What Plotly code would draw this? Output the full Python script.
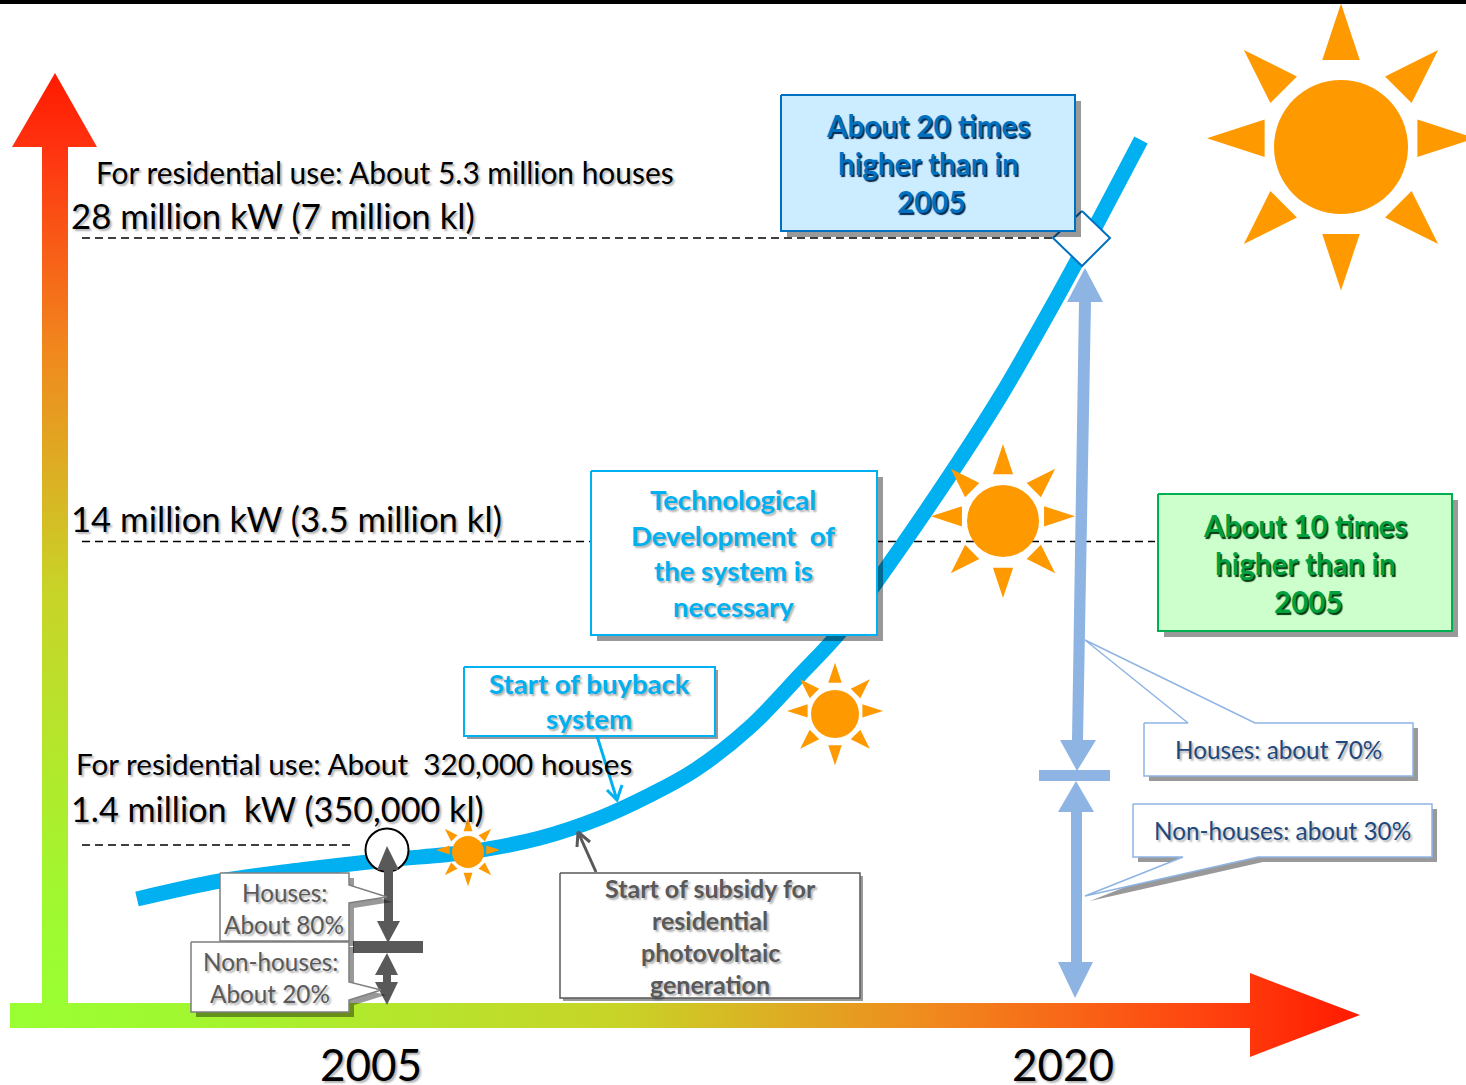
import math
import plotly.graph_objects as go

# ---------- data ----------
curve_x = [137, 220, 300, 387, 468, 540, 600, 650, 695, 750, 800, 840, 880, 950, 1000, 1050, 1085, 1141]
curve_y = [899, 881, 870, 860, 852, 838, 818, 795, 770, 727, 675, 632, 577, 475, 397, 310, 246, 140]
level_y = [238, 541.5, 845]
level_x_end = [1055, 1155, 352]
year_labels = ["2005", "2020"]
year_x = [371, 1063]
level_labels = ["28 million kW (7 million kl)", "14 million kW (3.5 million kl)", "1.4 million  kW (350,000 kl)"]
level_label_y = [215, 518, 808]
level_label_size = [34.8, 34.7, 34.2]
house_labels = ["For residential use: About 5.3 million houses", "For residential use: About  320,000 houses"]
house_label_x = [94, 74]
house_label_y = [172, 763]
house_label_size = [29.9, 29.7]
sun_x = [1341, 1003, 835, 468]
sun_y = [147, 521, 714, 852]
sun_r = [67, 36, 24, 16]

FONT = "Lato"
SHADOW = "rgba(0,0,0,0.4)"
fig = go.Figure()


def poly(xs, ys, fill, line=None, width=0):
    fig.add_trace(go.Scatter(
        x=list(xs) + [xs[0]], y=list(ys) + [ys[0]], mode="lines", fill="toself", fillcolor=fill,
        line=dict(color=line or "rgba(0,0,0,0)", width=width), hoverinfo="skip", showlegend=False))


def box(x0, y0, x1, y1, fill, line, width=2, off=6):
    if off:
        poly([x0 + off, x1 + off, x1 + off, x0 + off], [y0 + off, y0 + off, y1 + off, y1 + off], SHADOW)
    poly([x0, x1, x1, x0], [y0, y0, y1, y1], fill, line, width)


def seg(xs, ys, color, width, dash=None, shape="linear"):
    fig.add_trace(go.Scatter(x=xs, y=ys, mode="lines", line=dict(color=color, width=width, dash=dash, shape=shape),
                             hoverinfo="skip", showlegend=False))


def dot(x, y, diameter, fill, line="rgba(0,0,0,0)", width=0):
    fig.add_trace(go.Scatter(x=[x], y=[y], mode="markers",
                             marker=dict(size=diameter, color=fill, line=dict(color=line, width=width)),
                             hoverinfo="skip", showlegend=False))


def text(s, x, y, size, color, bold=False, anchor="center", shadow="2px 2px 2px rgba(0,0,0,0.3)"):
    fig.add_annotation(x=x, y=y, text=s, showarrow=False, xanchor=anchor, yanchor="middle",
                       font=dict(family=FONT, size=size, color=color, weight="bold" if bold else "normal",
                                 shadow=shadow))


RAY_INNER = [1.14, 1.21, 1.30, 1.21, 1.14, 1.21, 1.30, 1.21]
RAY_OUTER = [2.00, 2.05, 2.14, 2.05, 2.00, 2.05, 2.14, 2.05]
RAY_SHIFT = [-0.13, 0, 0, 0, -0.13, 0, 0, 0]


def sun(cx, cy, r):
    for k in range(8):
        a = k * math.pi / 4
        ca, sa = math.cos(a), math.sin(a)
        inner, outer, hw = RAY_INNER[k] * r, RAY_OUTER[k] * r, 0.28 * r
        cy2 = cy + RAY_SHIFT[k] * r
        poly([cx + inner * ca - hw * sa, cx + outer * ca, cx + inner * ca + hw * sa],
             [cy2 + inner * sa + hw * ca, cy2 + outer * sa, cy2 + inner * sa - hw * ca], "#FF9900")
    dot(cx, cy, 2 * r, "#FF9900")


# top rule
poly([0, 1466, 1466, 0], [-1, -1, 4, 4], "black")

# gradient axis arrows
GRAD = [[0, "#99FF33"], [0.12, "#A0F830"], [0.45, "#C8D428"], [0.68, "#F08A1E"], [0.88, "#FF4510"], [1, "#FF1A00"]]
fig.add_trace(go.Scatter(
    x=[42, 42, 12, 55, 97, 68, 68], y=[1015, 147, 147, 73, 147, 147, 1015], mode="lines", fill="toself",
    line=dict(width=0), fillgradient=dict(type="vertical", colorscale=[[0, "#FF1A00"], [0.08, "#FF3310"], [0.3, "#F08A1E"], [0.55, "#C8D428"], [0.88, "#A0F830"], [1, "#99FF33"]], start=73, stop=1015),
    hoverinfo="skip", showlegend=False))
fig.add_trace(go.Scatter(
    x=[10, 1250, 1250, 1360, 1250, 1250, 10], y=[1003, 1003, 973, 1015, 1057, 1028, 1028], mode="lines", fill="toself",
    line=dict(width=0), fillgradient=dict(type="horizontal", colorscale=GRAD, start=10, stop=1360),
    hoverinfo="skip", showlegend=False))

# dashed level lines
for ly, lx in zip(level_y, level_x_end):
    seg([82, lx], [ly, ly], "black", 1.5, "8px,5px")

# growth curve
seg(curve_x, curve_y, "#00B0F0", 15, shape="spline")

# suns
for sx, sy, sr in zip(sun_x, sun_y, sun_r):
    sun(sx, sy, sr)

# blue 2020 double arrows
B = "#8EB4E3"
poly([1085, 1103, 1091, 1083, 1096, 1077, 1060, 1072, 1079, 1067],
     [268, 302, 302, 740, 740, 771, 740, 740, 302, 302], B)
poly([1039, 1110, 1110, 1039], [770, 770, 781, 781], B)
poly([1076, 1094, 1082, 1082, 1093, 1075, 1058, 1071, 1071, 1058],
     [781, 812, 812, 962, 962, 998, 962, 962, 812, 812], B)

# diamond
poly([1082, 1110, 1082, 1053], [211, 238, 266, 238], "white", "#0070C0", 2)

# circle marker at 2005
dot(387, 850, 43, "white", "black", 2)

# gray 2005 arrows
G = "#595959"
poly([387, 399, 393, 393, 400, 388, 377, 384, 384, 377], [846, 870, 870, 921, 921, 943, 921, 921, 870, 870], G)
poly([353, 423, 423, 353], [941, 941, 953, 953], G)
poly([387, 398, 391, 391, 398, 387, 375, 383, 383, 375], [953, 975, 975, 982, 982, 1005, 982, 982, 975, 975], G)

# callouts at 2005
cx1, cy1 = [220, 349, 349, 387, 349, 349, 220], [873, 873, 885, 897, 903, 941, 941]
poly([x + 5 for x in cx1], [y + 5 for y in cy1], SHADOW)
poly(cx1, cy1, "white", "#7F7F7F", 1.5)
cx2, cy2 = [191, 349, 349, 381, 349, 349, 191], [942, 942, 982, 990, 1000, 1012, 1012]
poly([x + 5 for x in cx2], [y + 5 for y in cy2], SHADOW)
poly(cx2, cy2, "white", "#7F7F7F", 1.5)

# text boxes
box(781, 95, 1075, 231, "#CCECFF", "#0070C0")
box(591, 471, 877, 635, "white", "#00B0F0")
box(464, 667, 715, 736, "white", "#00B0F0", 2, 3)
box(560, 873, 860, 998, "white", "#595959", 1.5, 3)
box(1158, 494, 1452, 631, "#CCFFCC", "#00B050")

# callouts at 2020
cx3, cy3 = [1144, 1188, 1085, 1255, 1413, 1413, 1144], [723, 723, 640, 723, 723, 776, 776]
poly([1149, 1418, 1418, 1149], [728, 728, 781, 781], SHADOW)
poly(cx3, cy3, "white", B, 1.5)
cx4, cy4 = [1133, 1432, 1432, 1258, 1085, 1183, 1133], [804, 804, 857, 857, 896, 857, 857]
poly([x + 5 for x in cx4], [y + 5 for y in cy4], SHADOW)
poly(cx4, cy4, "white", B, 1.5)

# small pointer arrows
seg([597, 617], [736, 800], "#00B0F0", 3)
seg([607, 617, 622], [790, 800, 785], "#00B0F0", 3)
seg([596, 578], [872, 832], G, 3)
seg([577, 578, 590], [847, 832, 842], G, 3)

# labels
for s, x in zip(year_labels, year_x):
    text(s, x, 1064, 44, "black")
for s, y, z in zip(level_labels, level_label_y, level_label_size):
    text(s, 69, y, z, "black", anchor="left")
for s, x, y, z in zip(house_labels, house_label_x, house_label_y, house_label_size):
    text(s, x, y, z, "black", anchor="left")

for s, x, y in zip(["About 20 times", "higher than in", "2005"], [928, 928, 931], [125, 163, 201]):
    text(s, x, y, 29.6, "#0070C0", True, shadow="1.5px 1.5px 1px #002a55")
for s, x, y in zip(["About 10 times", "higher than in", "2005"], [1305, 1305, 1308], [525, 563, 601]):
    text(s, x, y, 29.6, "#00A03C", True, shadow="1.5px 1.5px 1px #003a10")
for s, y in zip(["Technological", "Development  of", "the system is", "necessary"], [499, 535, 570, 606]):
    text(s, 733, y, 27.5, "#00B0F0", True)
for s, y in zip(["Start of buyback", "system"], [683, 718]):
    text(s, 589, y, 27.5, "#00B0F0", True)
for s, y in zip(["Start of subsidy for", "residential", "photovoltaic", "generation"], [888, 920, 952, 984]):
    text(s, 710, y, 25, "#595959", True)
for s, y in zip(["Houses:", "About 80%"], [892, 924]):
    text(s, 284, y, 24.3, "#595959")
for s, y in zip(["Non-houses:", "About 20%"], [961, 993]):
    text(s, 270, y, 24.3, "#595959")
text("Houses: about 70%", 1278, 749, 24.3, "#1F497D")
text("Non-houses: about 30%", 1282, 830, 24.3, "#1F497D")

fig.update_layout(
    width=1466, height=1085, margin=dict(l=0, r=0, t=0, b=0), paper_bgcolor="white", plot_bgcolor="white",
    showlegend=False,
    xaxis=dict(range=[0, 1466], visible=False, fixedrange=True),
    yaxis=dict(range=[1085, 0], visible=False, fixedrange=True),
)
fig.write_html("out.html", config=dict(displayModeBar=False),
               post_script="document.body.style.margin='0';")
